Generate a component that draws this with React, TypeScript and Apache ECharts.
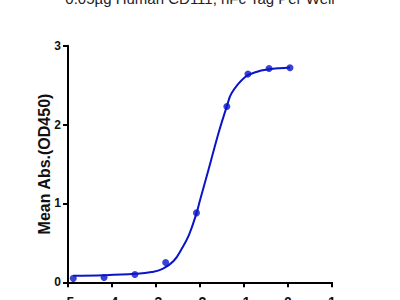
import React, { useEffect, useRef } from "react";
import * as echarts from "echarts";

const titleText = "0.05µg Human CD111, hFc Tag Per Well";
const yAxisName = "Mean Abs.(OD450)";
const xTicks = [-5, -4, -3, -2, -1, 0, 1];

// measured points (log concentration, OD450)
const pointX = [-4.88, -4.18, -3.48, -2.78, -2.08, -1.39, -0.91, -0.43, 0.045];
const pointY = [0.05, 0.06, 0.1, 0.25, 0.88, 2.23, 2.64, 2.71, 2.72];

// fitted curve
const curveX = [-4.88, -4.18, -3.48, -3.1, -2.85, -2.6, -2.4, -2.25, -2.08, -2.0, -1.81, -1.58, -1.39, -1.28, -0.98, -0.7, -0.43, -0.2, 0.045];
const curveY = [0.082, 0.09, 0.108, 0.13, 0.17, 0.27, 0.44, 0.6, 0.875, 1.04, 1.42, 1.89, 2.23, 2.4, 2.6, 2.67, 2.7, 2.715, 2.725];

export default function App() {
  const ref = useRef<HTMLDivElement>(null);
  useEffect(() => {
    if (!ref.current) return;
    const chart = echarts.init(ref.current, null, { renderer: "svg" });
    const blue = "#0a14c8";
    chart.setOption({
      animation: false,
      backgroundColor: "#ffffff",
      title: {
        text: titleText,
        left: "center",
        top: -14,
        textStyle: { fontFamily: "Arial, Liberation Sans", fontSize: 15, fontWeight: "normal", color: "#222" },
      },
      grid: { left: 68, right: 68, top: 45.7, bottom: 17.7, containLabel: false, outerBoundsMode: "none" },
      xAxis: {
        type: "value",
        min: xTicks[0],
        max: xTicks[xTicks.length - 1],
        interval: 1,
        splitLine: { show: false },
        axisLine: { onZero: false, lineStyle: { color: "#000", width: 2 } },
        axisTick: { length: 5, lineStyle: { color: "#000", width: 2 } },
        axisLabel: { margin: 13, fontFamily: "Arial, Liberation Sans", fontSize: 14, fontWeight: "bold", color: "#111" },
      },
      yAxis: {
        type: "value",
        min: 0,
        max: 3,
        interval: 1,
        name: yAxisName,
        nameLocation: "middle",
        nameGap: 16,
        nameMoveOverlap: false,
        nameTextStyle: { fontFamily: "Arial, Liberation Sans", fontSize: 16, fontWeight: "bold", color: "#111" },
        splitLine: { show: false },
        axisLine: { show: true, onZero: false, lineStyle: { color: "#000", width: 2 } },
        axisTick: { show: true, length: 5, lineStyle: { color: "#000", width: 2 } },
        axisLabel: { margin: 7, fontFamily: "Arial, Liberation Sans", fontSize: 12, fontWeight: "bold", color: "#111" },
      },
      series: [
        {
          type: "line",
          data: curveX.map((x, i) => [x, curveY[i]]),
          smooth: 0.4,
          showSymbol: false,
          lineStyle: { color: blue, width: 2 },
          z: 2,
        },
        {
          type: "scatter",
          data: pointX.map((x, i) => [x, pointY[i]]),
          symbol: "circle",
          symbolSize: 7,
          itemStyle: { color: blue },
          z: 3,
        },
      ],
    });
    return () => chart.dispose();
  }, []);
  return <div ref={ref} style={{ position: "fixed", left: 0, top: 0, width: 400, height: 300 }} />;
}
